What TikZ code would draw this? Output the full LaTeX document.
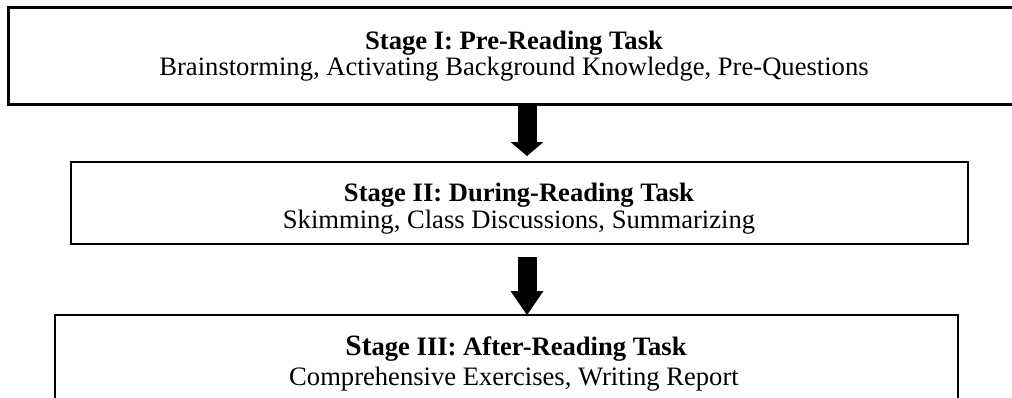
\documentclass[tikz,border=0pt]{standalone}
\usepackage{fontspec}
\setmainfont{Liberation Serif}
\usetikzlibrary{arrows.meta,calc}
\begin{document}
\begin{tikzpicture}[x=1pt,y=-1pt,
  box/.style={draw,rectangle,inner sep=0pt,outer sep=0pt},
  ttl/.style={font=\fontsize{26.6}{30}\selectfont\bfseries,anchor=base,inner sep=0pt},
  sub/.style={font=\fontsize{26.6}{30}\selectfont,anchor=base,inner sep=0pt},
  blockarrow/.style={line width=19pt}]
\useasboundingbox (0,0) rectangle (1012,397);
\clip (0,0) rectangle (1012,397);
% boxes
\node[box,line width=3pt,minimum width=1012pt,minimum height=97pt] (b1) at (514,55.5) {};
\node[box,line width=2.5pt,minimum width=897pt,minimum height=82pt] (b2) at (519.5,203) {};
\node[box,line width=2.5pt,minimum width=903pt,minimum height=105pt] (b3) at (506.5,367.5) {};
% texts
\node[ttl] (t1) at (514,49) {Stage I: Pre-Reading Task};
\node[sub] (s1) at (514,75) {Brainstorming, Activating Background Knowledge, Pre-Questions};
\node[ttl] (t2) at (519,201) {Stage II: During-Reading Task};
\node[sub] (s2) at (519,228) {Skimming, Class Discussions, Summarizing};
\node[ttl] (t3) at (516,355) {{\fontsize{29.5}{30}\selectfont St}age III: After-Reading Task};
\node[sub] (s3) at (514,385) {Comprehensive Exercises, Writing Report};
% arrows
\coordinate (ax) at (527,0);
\draw[blockarrow,-{Triangle[width=33pt,length=14pt,line width=0pt]}]
  (b1.south -| ax) -- ($(b2.north -| ax)+(0,-6)$);
\draw[blockarrow,-{Triangle[width=33pt,length=24pt,line width=0pt]}]
  ($(b2.south -| ax)+(0,13)$) -- (b3.north -| ax);
\end{tikzpicture}
\end{document}
